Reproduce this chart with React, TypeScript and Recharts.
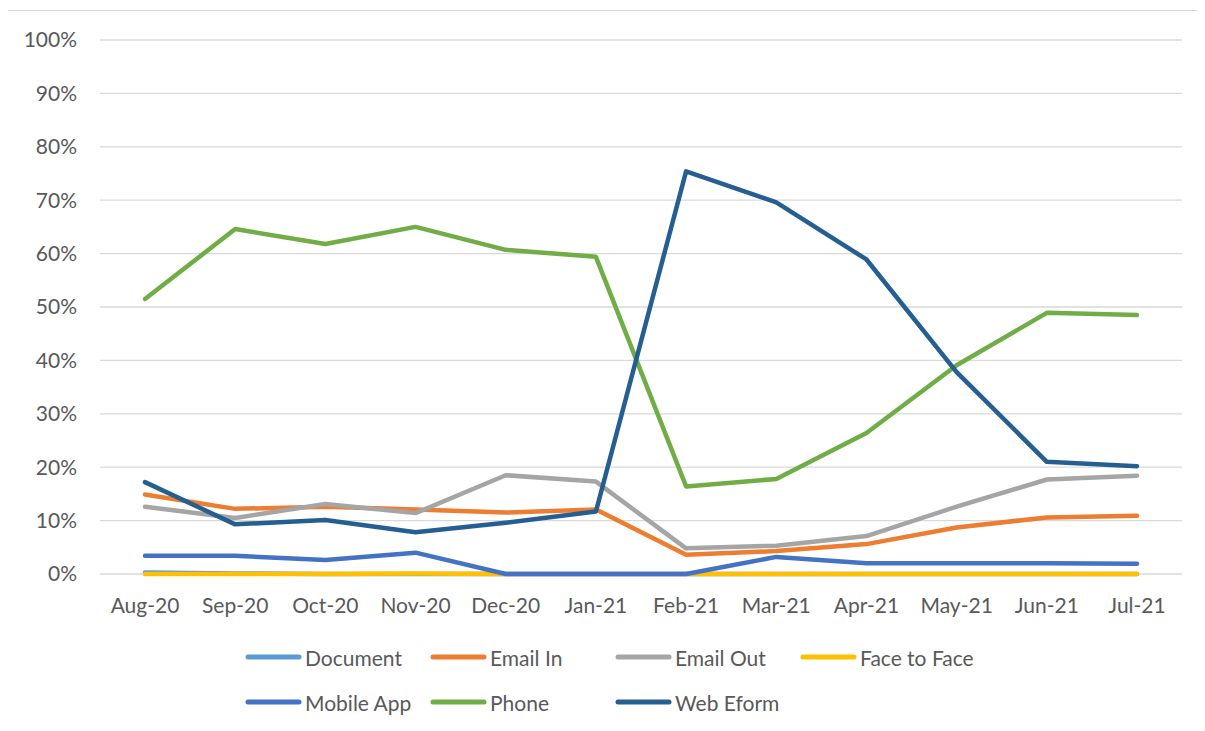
import { CartesianGrid, Legend, Line, LineChart, XAxis, YAxis } from "recharts";

const months = ["Aug-20", "Sep-20", "Oct-20", "Nov-20", "Dec-20", "Jan-21", "Feb-21", "Mar-21", "Apr-21", "May-21", "Jun-21", "Jul-21"];

// share of contacts per channel, in percent
const documentShare = [0.3, 0.1, 0, 0, 0, 0, 0, 0, 0, 0, 0, 0];
const emailIn = [14.9, 12.2, 12.6, 12.1, 11.5, 12.1, 3.6, 4.3, 5.6, 8.7, 10.6, 10.9];
const emailOut = [12.6, 10.5, 13.1, 11.4, 18.5, 17.3, 4.8, 5.3, 7.1, 12.6, 17.7, 18.4];
const faceToFace = [0, 0, 0, 0.1, 0, 0, 0, 0, 0, 0, 0, 0];
const mobileApp = [3.4, 3.4, 2.6, 4.0, 0, 0, 0, 3.2, 2.0, 2.0, 2.0, 1.9];
const phone = [51.5, 64.6, 61.8, 65.0, 60.7, 59.4, 16.4, 17.8, 26.4, 39.1, 48.9, 48.5];
const webEform = [17.2, 9.3, 10.1, 7.8, 9.6, 11.7, 75.4, 69.6, 58.9, 37.8, 21.0, 20.2];

const yTicks = [0, 10, 20, 30, 40, 50, 60, 70, 80, 90, 100];

const series = [
    { key: "document", name: "Document", color: "#5B9BD5" },
    { key: "emailIn", name: "Email In", color: "#ED7D31" },
    { key: "emailOut", name: "Email Out", color: "#A5A5A5" },
    { key: "faceToFace", name: "Face to Face", color: "#FFC000" },
    { key: "mobileApp", name: "Mobile App", color: "#4472C4" },
    { key: "phone", name: "Phone", color: "#70AD47" },
    { key: "webEform", name: "Web Eform", color: "#255E91" },
];

const data = months.map((month, i) => ({
    month,
    document: documentShare[i],
    emailIn: emailIn[i],
    emailOut: emailOut[i],
    faceToFace: faceToFace[i],
    mobileApp: mobileApp[i],
    phone: phone[i],
    webEform: webEform[i],
}));

const FONT = "Lato, 'Open Sans', sans-serif";
const TEXT = "#595959";

/**
 * Excel style legend, four columns, two rows
 */
function ChannelLegend() {
    return <div style={{ position: "relative", width: 1208, height: 90 }}>
        {series.map((s, i) => {
            const col = i % 4;
            const row = Math.floor(i / 4);
            return <div key={s.key} style={{
                position: "absolute", left: 237 + col * 185, top: row * 45,
                display: "flex", alignItems: "center", height: 24,
                fontFamily: FONT, fontSize: 21, color: TEXT, whiteSpace: "nowrap",
            }}>
                <svg width={60} height={10}>
                    <line x1={3} y1={5} x2={54} y2={5} stroke={s.color} strokeWidth={5} strokeLinecap="round" />
                </svg>
                <span>{s.name}</span>
            </div>;
        })}
    </div>;
}

export default function App() {
    return <div style={{ marginLeft: -1, marginTop: 2, width: 1230, height: 740, border: "1px solid #d9d9d9", background: "#fff" }}>
        <LineChart width={1208} height={720} data={data} margin={{ top: 29, right: 34, bottom: 17, left: 22 }}>
            <CartesianGrid vertical={false} stroke="#d9d9d9" strokeWidth={1.3} />
            <XAxis dataKey="month" axisLine={false} tickLine={false} tickSize={0} tickMargin={24}
                padding={{ left: 45, right: 45 }} height={50} interval={0}
                tick={{ fill: TEXT, fontFamily: FONT, fontSize: 21 }} />
            <YAxis domain={[0, 100]} ticks={yTicks} axisLine={false} tickLine={false} tickSize={0} tickMargin={23}
                width={70} tickFormatter={t => `${t}%`}
                tick={{ fill: TEXT, fontFamily: FONT, fontSize: 21 }} />
            <Legend verticalAlign="bottom" content={() => <ChannelLegend />}
                wrapperStyle={{ left: 0, top: 634, width: 1208 }} />
            {series.map(s =>
                <Line key={s.key} type="linear" dataKey={s.key} name={s.name} stroke={s.color}
                    strokeWidth={4.5} strokeLinecap="round" strokeLinejoin="round"
                    dot={false} activeDot={false} isAnimationActive={false} />
            )}
        </LineChart>
    </div>;
}
